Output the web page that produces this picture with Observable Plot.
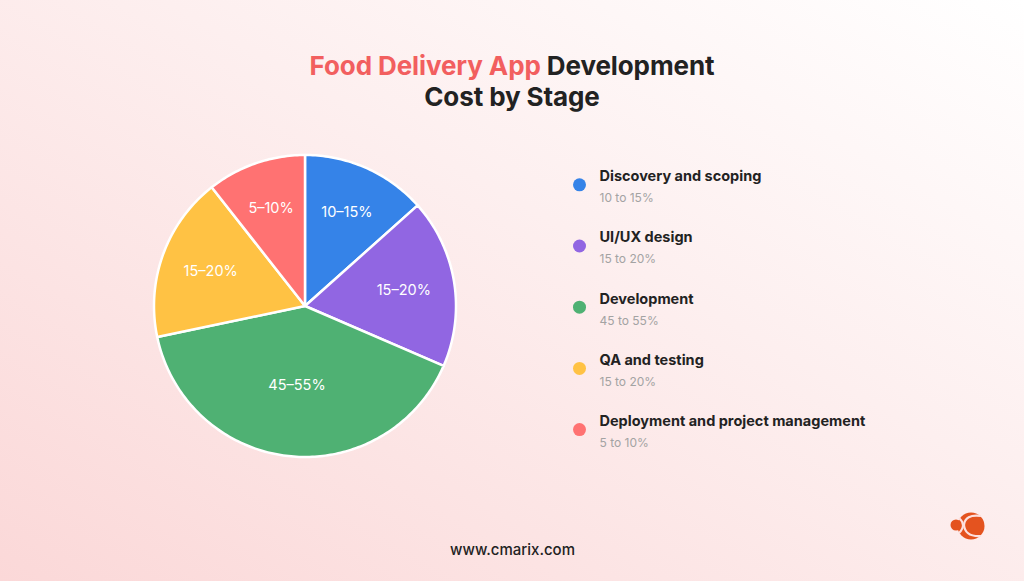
<!DOCTYPE html>
<html><head><meta charset="utf-8">
<script src="https://cdn.jsdelivr.net/npm/d3@7"></script>
<script src="https://cdn.jsdelivr.net/npm/@observablehq/plot@0.6"></script>
<style>
html,body{margin:0;padding:0;}
body{width:1024px;height:581px;overflow:hidden;position:relative;
  background:linear-gradient(to bottom left,#ffffff 0%,#fdefef 42%,#fbd8d8 100%);
  font-family:Inter,"Noto Sans",sans-serif;}
#title{position:absolute;left:0;top:50px;width:1024px;text-align:center;font-size:26px;font-weight:700;line-height:31px;color:#222;letter-spacing:-0.1px}
#title .hl{color:#f25f5f}
#chart{position:absolute;left:0;top:0}
#logo{position:absolute;left:940px;top:508px}
</style></head><body>
<div id="chart"></div>
<div id="title"><span class="hl">Food Delivery App</span> Development<br>Cost by Stage</div>
<svg id="logo" width="50" height="36" viewBox="0 0 50 36">
  <circle cx="31" cy="18" r="13.5" fill="#e4531f"/>
  <circle cx="16" cy="17" r="5.5" fill="#e4531f"/>
  <path d="M19 10 Q27 17 19 25" stroke="#fde0de" stroke-width="2.2" fill="none"/>
  <path d="M41 8 Q25 6 24 17 Q25 29 41 28" stroke="#fde0de" stroke-width="2.2" fill="none"/>
</svg>
<script>
const stages = ["Discovery and scoping","UI/UX design","Development","QA and testing","Deployment and project management"];
const shares = [13.4, 18.1, 40.2, 17.7, 10.6];
const sliceLabels = ["10–15%","15–20%","45–55%","15–20%","5–10%"];
const ranges = ["10 to 15%","15 to 20%","45 to 55%","15 to 20%","5 to 10%"];
const colors = ["#3583e8","#9166e2","#4fb173","#ffc244","#ff7272"];

const W = 1024, H = 581;
const cx = 304.5, cy = 305.5, R = 151;

const arcs = d3.pie().sort(null).startAngle(0).endAngle(2*Math.PI)(shares);

const slices = arcs.map((a, i) => {
  const pts = [{x: cx, y: cy}];
  const n = Math.max(8, Math.ceil((a.endAngle - a.startAngle) / (Math.PI/180)));
  for (let k = 0; k <= n; k++) {
    const t = a.startAngle + (a.endAngle - a.startAngle) * k / n;
    pts.push({x: cx + R*Math.sin(t), y: cy - R*Math.cos(t)});
  }
  const th = a.endAngle - a.startAngle, mid = (a.startAngle + a.endAngle)/2;
  const d = 1.05 * 4*R*Math.sin(th/2)/(3*th);
  return {pts, color: colors[i], label: sliceLabels[i], lx: cx + d*Math.sin(mid), ly: cy - d*Math.cos(mid)};
});

const legend = stages.map((s, i) => ({name: s, range: ranges[i], color: colors[i], y: 184.3 + i*61.2}));

const marks = [
  ...slices.map(s => Plot.line(s.pts, {x: "x", y: "y", fill: s.color, stroke: "#ffffff", strokeWidth: 2.5, curve: "linear-closed", strokeLinejoin: "round"})),
  Plot.text(slices, {x: "lx", y: "ly", text: "label", fill: "#ffffff", fontSize: 14.5, fontWeight: 400, textAnchor: "middle", lineAnchor: "middle"}),
  Plot.dot(legend, {x: () => 579, y: "y", r: 6.5, fill: "color", stroke: null}),
  Plot.text(legend, {x: () => 599, y: d => d.y - 3.6, text: "name", fill: "#222222", fontSize: 14.5, fontWeight: 700, textAnchor: "start", lineAnchor: "bottom"}),
  Plot.text(legend, {x: () => 599, y: d => d.y + 17.4, text: "range", fill: "#a3a3a3", fontSize: 12, fontWeight: 400, textAnchor: "start", lineAnchor: "bottom"}),
  Plot.text(["www.cmarix.com"], {x: () => 512, y: () => 554, text: d => d, fill: "#222222", fontSize: 15, fontWeight: 500, textAnchor: "middle", lineAnchor: "bottom"})
];

const chart = Plot.plot({
  width: W, height: H, margin: 0,
  x: {domain: [0, W], range: [0, W], axis: null},
  y: {domain: [0, H], range: [0, H], axis: null},
  style: {background: "transparent", fontFamily: "Inter, 'Noto Sans', sans-serif", overflow: "visible"},
  marks
});
document.getElementById("chart").appendChild(chart);
</script>
</body></html>
